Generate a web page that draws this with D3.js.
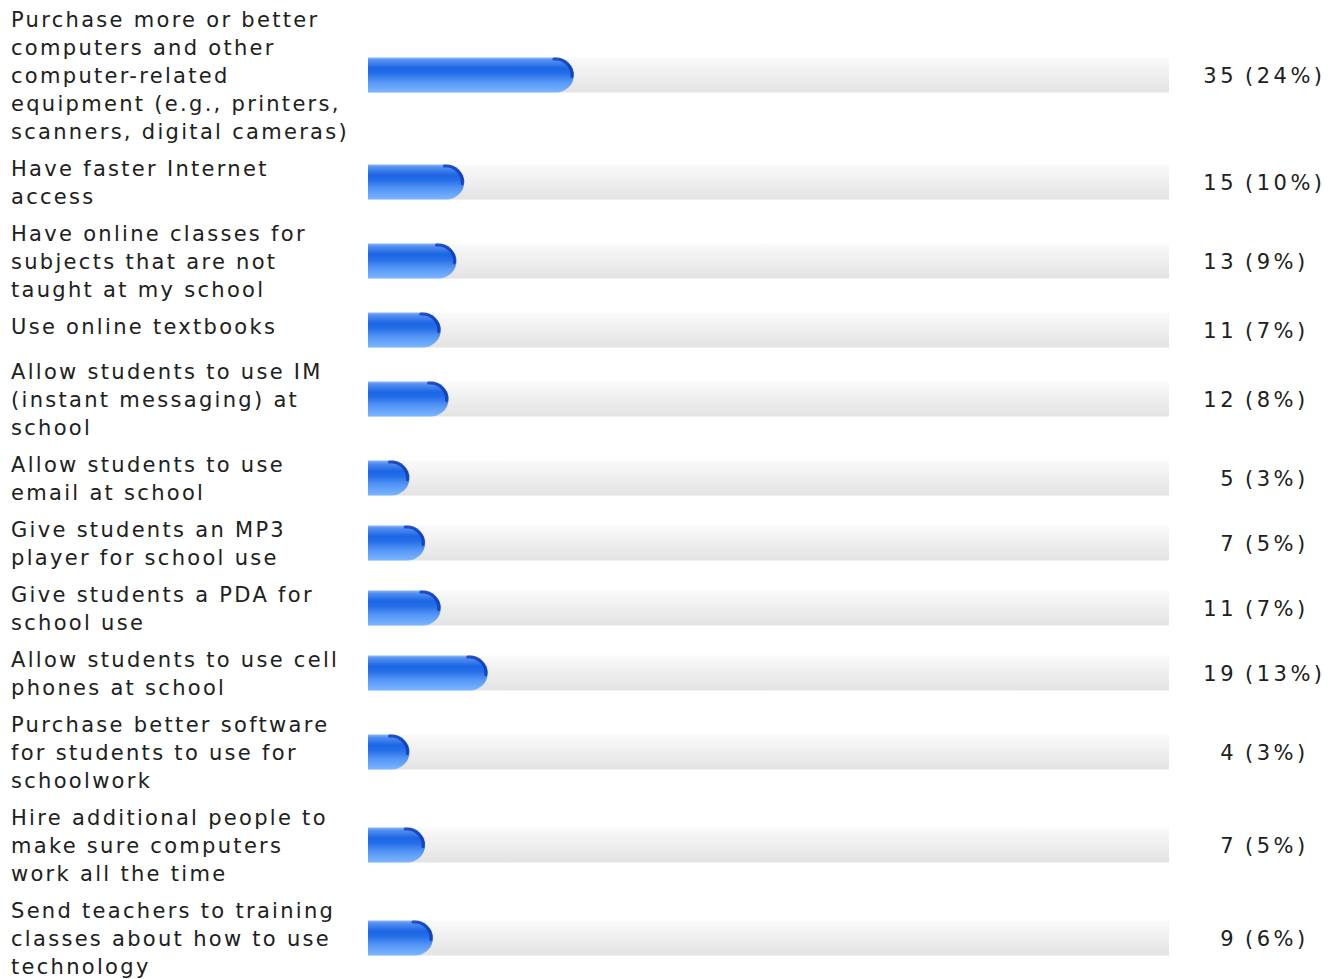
<!DOCTYPE html>
<html lang="en">
<head>
  <meta charset="utf-8">
  <title>Survey responses</title>
  <script src="https://d3js.org/d3.v7.min.js"></script>
  <style>
    body { margin: 0; background: #fff; }
    .label, .value { font-family: "DejaVu Sans", Verdana, sans-serif; font-size: 21px; letter-spacing: 2.3px; fill: #202020; }
    .value { letter-spacing: 3.5px; }
  </style>
</head>
<body>
<script>
  // answer labels, already broken into lines as in the picture
  const labels = [
    ["Purchase more or better", "computers and other", "computer-related", "equipment (e.g., printers,", "scanners, digital cameras)"],
    ["Have faster Internet", "access"],
    ["Have online classes for", "subjects that are not", "taught at my school"],
    ["Use online textbooks"],
    ["Allow students to use IM", "(instant messaging) at", "school"],
    ["Allow students to use", "email at school"],
    ["Give students an MP3", "player for school use"],
    ["Give students a PDA for", "school use"],
    ["Allow students to use cell", "phones at school"],
    ["Purchase better software", "for students to use for", "schoolwork"],
    ["Hire additional people to", "make sure computers", "work all the time"],
    ["Send teachers to training", "classes about how to use", "technology"]
  ];
  const counts = [35, 15, 13, 11, 12, 5, 7, 11, 19, 4, 7, 9];
  const percents = [24, 10, 9, 7, 8, 3, 5, 7, 13, 3, 5, 6];

  const width = 1337, height = 979;
  const lineH = 28, barH = 35, minCell = 36, gap = 9, startY = 5;
  const trackX = 368, trackW = 801, cap = 18;

  const svg = d3.select("body").append("svg")
    .attr("width", width)
    .attr("height", height);

  const defs = svg.append("defs");
  const blue = defs.append("linearGradient").attr("id", "blue")
    .attr("x1", 0).attr("y1", 0).attr("x2", 0).attr("y2", 1);
  [["0%", "#8cb8f8"], ["8%", "#5290f2"], ["30%", "#1d66e4"], ["45%", "#246ee9"],
   ["70%", "#5596f6"], ["100%", "#7cb6ff"]].forEach(s =>
    blue.append("stop").attr("offset", s[0]).attr("stop-color", s[1]));
  const grey = defs.append("linearGradient").attr("id", "grey")
    .attr("x1", 0).attr("y1", 0).attr("x2", 0).attr("y2", 1);
  [["0%", "#fafafa"], ["100%", "#e3e3e3"]].forEach(s =>
    grey.append("stop").attr("offset", s[0]).attr("stop-color", s[1]));

  // rows have variable height, depending on the number of label lines
  const rows = [];
  let y = startY;
  labels.forEach((lines, i) => {
    const cell = Math.max(lines.length * lineH, minCell);
    rows.push({ lines, count: counts[i], pct: percents[i], y, cell });
    y += cell + gap;
  });

  const x = d3.scaleLinear().domain([0, 100]).range([0, trackW - cap]);

  const row = svg.selectAll(".row")
    .data(rows)
    .enter().append("g")
    .attr("class", "row")
    .attr("transform", d => "translate(0," + d.y + ")");

  row.append("text")
    .attr("class", "label")
    .selectAll("tspan")
    .data(d => d.lines)
    .enter().append("tspan")
    .attr("x", 11)
    .attr("y", (l, j) => j * lineH + 22)
    .text(l => l);

  // grey track
  row.append("rect")
    .attr("x", trackX)
    .attr("y", d => d.cell / 2 - barH / 2)
    .attr("width", trackW)
    .attr("height", barH)
    .attr("fill", "url(#grey)");

  // blue bar with rounded end
  function barPath(d) {
    const w = x(d.pct) + cap;
    const y0 = d.cell / 2 - barH / 2, y1 = y0 + barH;
    const body = trackX + w - cap;
    return "M" + trackX + "," + y0 + "H" + body +
      "A" + cap + "," + (barH / 2) + " 0 0 1 " + body + "," + y1 +
      "H" + trackX + "Z";
  }
  row.append("path")
    .attr("d", barPath)
    .attr("fill", "url(#blue)");

  // darker rim on the upper right of the cap
  row.append("path")
    .attr("d", d => {
      const body = trackX + x(d.pct);
      const y0 = d.cell / 2 - barH / 2;
      const ex = body + cap * Math.sin(Math.PI * 0.42);
      const ey = d.cell / 2 - (barH / 2) * Math.cos(Math.PI * 0.42);
      return "M" + (body - 2) + "," + (y0 + 1.5) +
        "A" + (cap - 1.5) + "," + (barH / 2 - 1.5) + " 0 0 1 " + (ex - 1.5) + "," + (ey + 6);
    })
    .attr("fill", "none")
    .attr("stroke", "#1038b8")
    .attr("stroke-width", 3)
    .attr("stroke-linecap", "round")
    .attr("opacity", 0.8);

  row.append("text")
    .attr("class", "value")
    .attr("x", 1237)
    .attr("y", d => d.cell / 2 + 8)
    .attr("text-anchor", "end")
    .text(d => d.count);

  row.append("text")
    .attr("class", "value")
    .attr("x", 1245)
    .attr("y", d => d.cell / 2 + 8)
    .text(d => "(" + d.pct + "%)");
</script>
</body>
</html>
